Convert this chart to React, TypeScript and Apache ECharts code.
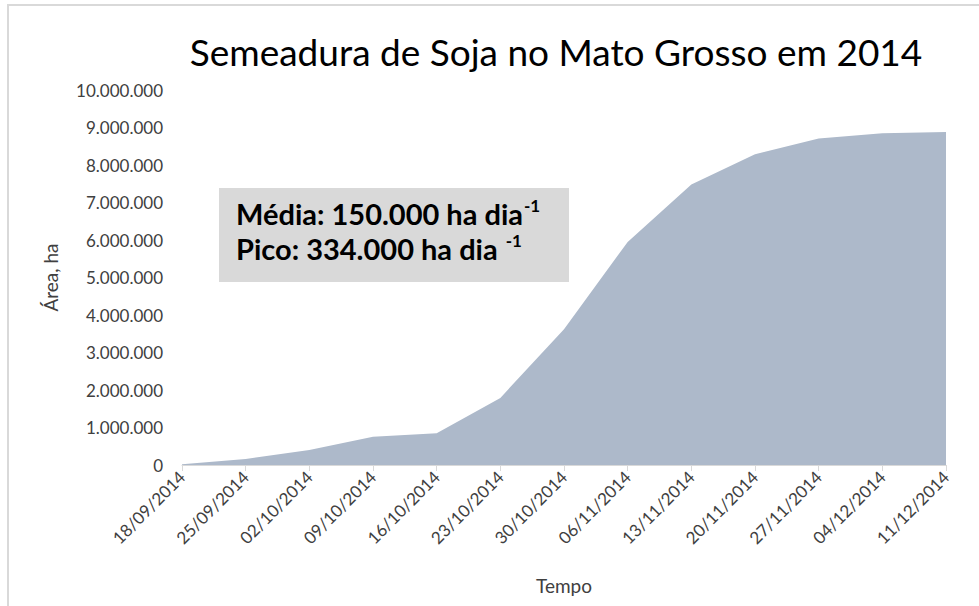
import React, { useEffect, useRef } from "react";
import * as echarts from "echarts";

const categories = [
  "18/09/2014", "25/09/2014", "02/10/2014", "09/10/2014", "16/10/2014",
  "23/10/2014", "30/10/2014", "06/11/2014", "13/11/2014", "20/11/2014",
  "27/11/2014", "04/12/2014", "11/12/2014",
];
const areaValues = [
  20000, 160000, 400000, 755000, 845000, 1790000, 3620000, 5950000,
  7480000, 8290000, 8710000, 8850000, 8880000,
];
const titleText = "Semeadura de Soja no Mato Grosso em 2014";
const yName = "Área, ha";
const xName = "Tempo";
const line1 = "Média: 150.000 ha dia";
const line2 = "Pico: 334.000 ha dia ";
const supText = "-1";

const fmt = (v: number) =>
  String(Math.round(v)).replace(/\B(?=(\d{3})+(?!\d))/g, ".");

export default function App() {
  const ref = useRef<HTMLDivElement>(null);
  useEffect(() => {
    if (!ref.current) return;
    const chart = echarts.init(ref.current, undefined, { renderer: "svg" });
    const font = "Lato, 'Open Sans', sans-serif";
    const rich = {
      a: { fontSize: 29, fontWeight: "bold", fontFamily: font, color: "#000", lineHeight: 32, verticalAlign: "bottom" },
      s: { fontSize: 17, fontWeight: "bold", fontFamily: font, color: "#000", lineHeight: 32, verticalAlign: "top", padding: [1, 0, 0, 1] },
    };
    chart.setOption({
      animation: false,
      backgroundColor: "#ffffff",
      textStyle: { fontFamily: font },
      title: {
        text: titleText,
        left: 551,
        top: 28,
        textAlign: "center",
        textStyle: { fontFamily: font, fontSize: 37, fontWeight: "normal", color: "#000000" },
      },
      grid: { left: 182, right: 33, top: 90, bottom: 141, containLabel: false },
      xAxis: {
        type: "category",
        data: categories,
        boundaryGap: false,
        name: xName,
        nameLocation: "middle",
        nameGap: 111,
        nameTextStyle: { fontFamily: font, fontSize: 19, color: "#404040" },
        axisLine: { show: true, lineStyle: { color: "#d9d9d9", width: 1 } },
        axisTick: { show: true, alignWithLabel: true, length: 6, lineStyle: { color: "#d9d9d9" } },
        axisLabel: {
          rotate: 45,
          fontFamily: font,
          fontSize: 17,
          color: "#404040",
          margin: 9,
          interval: 0,
        },
        splitLine: { show: false },
      },
      yAxis: {
        type: "value",
        min: 0,
        max: 10000000,
        interval: 1000000,
        name: yName,
        nameLocation: "middle",
        nameGap: 122,
        nameRotate: 90,
        nameTextStyle: { fontFamily: font, fontSize: 19, color: "#404040" },
        axisLine: { show: false },
        axisTick: { show: false },
        splitLine: { show: false },
        axisLabel: {
          fontFamily: font,
          fontSize: 17,
          color: "#404040",
          margin: 19,
          formatter: (v: number) => fmt(v),
        },
      },
      graphic: [
        {
          type: "rect",
          shape: { x: 8, y: 5, width: 1000, height: 700 },
          style: { fill: "none", stroke: "#d9d9d9", lineWidth: 2 },
          silent: true,
          z: -10,
        },
        {
          type: "rect",
          shape: { x: 219, y: 188, width: 350, height: 94 },
          style: { fill: "#d9d9d9" },
          z: 100,
        },
        {
          type: "text",
          x: 236,
          y: 196,
          z: 101,
          style: { text: `{a|${line1}}{s|${supText}}`, fontFamily: font, rich },
        },
        {
          type: "text",
          x: 236,
          y: 231,
          z: 101,
          style: { text: `{a|${line2}}{s|${supText}}`, fontFamily: font, rich },
        },
      ],
      series: [
        {
          type: "line",
          data: areaValues,
          symbol: "none",
          lineStyle: { width: 0, color: "#adb9ca" },
          itemStyle: { color: "#adb9ca" },
          areaStyle: { color: "#adb9ca", opacity: 1 },
        },
      ],
    });
    return () => chart.dispose();
  }, []);
  return (
    <div
      ref={ref}
      style={{ position: "fixed", left: 0, top: 0, width: 979, height: 606 }}
    />
  );
}
